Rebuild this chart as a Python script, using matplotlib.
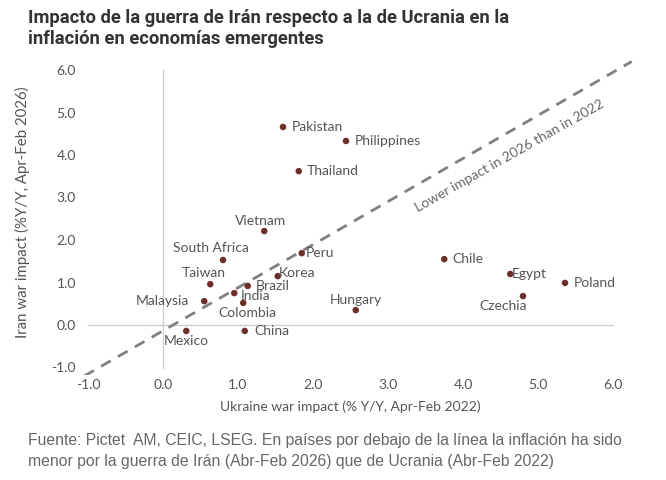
import matplotlib
matplotlib.use("Agg")
import matplotlib.pyplot as plt

countries = ["Pakistan", "Philippines", "Thailand", "Vietnam", "South Africa", "Peru",
             "Taiwan", "Korea", "Brazil", "India", "Malaysia", "Colombia", "Hungary",
             "Mexico", "China", "Chile", "Egypt", "Poland", "Czechia"]
ukraine = [1.60, 2.44, 1.81, 1.35, 0.80, 1.85, 0.63, 1.53, 1.13, 0.95, 0.55, 1.07, 2.57,
           0.31, 1.09, 3.75, 4.63, 5.36, 4.80]
iran = [4.66, 4.33, 3.62, 2.21, 1.53, 1.69, 0.96, 1.15, 0.92, 0.75, 0.56, 0.52, 0.35,
        -0.14, -0.14, 1.55, 1.20, 0.99, 0.68]
# label offsets (points) and alignment
label_pos = {
    "Pakistan": (6, 0, "left", "center"),
    "Philippines": (6, 0, "left", "center"),
    "Thailand": (6, 0, "left", "center"),
    "Vietnam": (-3, 3, "center", "bottom"),
    "South Africa": (-9, 4, "center", "bottom"),
    "Peru": (3, 0, "left", "center"),
    "Taiwan": (-5, 4, "center", "bottom"),
    "Korea": (1, 2, "left", "center"),
    "Brazil": (6, 0, "left", "center"),
    "India": (5, -2, "left", "center"),
    "Malaysia": (-11, 0, "right", "center"),
    "Colombia": (3, -3, "center", "top"),
    "Hungary": (0, 3, "center", "bottom"),
    "Mexico": (0, -3, "center", "top"),
    "China": (7, 0, "left", "center"),
    "Chile": (6, 0, "left", "center"),
    "Egypt": (1, 0, "left", "center"),
    "Poland": (6, 0, "left", "center"),
    "Czechia": (-14, -3, "center", "top"),
}
x_ticks = [-1, 0, 1, 2, 3, 4, 5, 6]
x_tick_labels = ["-1.0", "0.0", "1.0", "2.0", "3.0", "4.0", "5.0", "6.0"]
y_ticks = [-1, 0, 1, 2, 3, 4, 5, 6]
y_tick_labels = ["-1.0", "0.0", "1.0", "2.0", "3.0", "4.0", "5.0", "6.0"]
line_x = [-1.05, 6.25]
line_y = [-1.2, 6.2]

title = "Impacto de la guerra de Irán respecto a la de Ucrania en la\ninflación en economías emergentes"
footer = ("Fuente: Pictet  AM, CEIC, LSEG. En países por debajo de la línea la inflación ha sido\n"
          "menor por la guerra de Irán (Abr-Feb 2026) que de Ucrania (Abr-Feb 2022)")

FONT = "Lato"
txt_col = "#555555"

fig = plt.figure(figsize=(6.66, 4.8), dpi=100)
ax = fig.add_axes([80 / 666, 105 / 480, 560 / 666, 320 / 480])
ax.set_xlim((80 - 163) / 75, (640 - 163) / 75)
ax.set_ylim((325 - 375) / 42.5, (325 - 55) / 42.5)
for s in ax.spines.values():
    s.set_visible(False)

ax.plot([-1, 6], [0, 0], color="#d0d0d0", lw=1.0, zorder=1)
ax.plot([0, 0], [-1, 6], color="#d0d0d0", lw=1.0, zorder=1)
ax.plot(line_x, line_y, color="#808080", lw=2.0, ls=(0, (4, 3)), zorder=2)

ax.scatter(ukraine, iran, s=22, color="#6e2f2b", zorder=3, edgecolors="none")
for name, xv, yv in zip(countries, ukraine, iran):
    dx, dy, ha, va = label_pos[name]
    ax.annotate(name, (xv, yv), xytext=(dx, dy), textcoords="offset points",
                ha=ha, va=va, fontsize=10, color=txt_col, family=FONT, zorder=4)

ax.text(4.62, 3.97, "Lower impact in 2026 than in 2022", rotation=29.5, rotation_mode="anchor",
        ha="center", va="center", fontsize=10, color="#666666", family=FONT)

ax.set_xticks(x_ticks)
ax.set_xticklabels(x_tick_labels, family=FONT, fontsize=10, color=txt_col)
ax.set_yticks(y_ticks)
ax.set_yticklabels(y_tick_labels, family=FONT, fontsize=10, color=txt_col)
ax.tick_params(length=0, pad=3)

ax.set_xlabel("Ukraine war impact (% Y/Y, Apr-Feb 2022)", family=FONT, fontsize=10,
              color=txt_col)
ax.xaxis.set_label_coords((350 - 80) / 560, -0.08)
ax.set_ylabel("Iran war impact (%Y/Y, Apr-Feb 2026)", family=FONT, fontsize=10.8,
              color=txt_col)
ax.yaxis.set_label_coords((30 - 80) / 560, (375 - 212) / 320)

fig.text(28 / 666, 1 - 9 / 480, title, ha="left", va="top", fontsize=13.2,
         fontweight="bold", color="#333333", family="Roboto", linespacing=1.22)
fig.text(28 / 666, 1 - 433 / 480, footer, ha="left", va="top", fontsize=11.3,
         color="#666666", family="Liberation Sans", linespacing=1.5)

fig.savefig("out.png", dpi=100, facecolor="white")
